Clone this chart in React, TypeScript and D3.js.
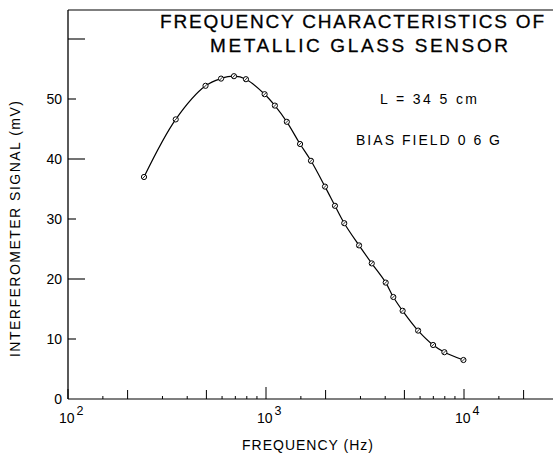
import React from "react";
import * as d3 from "d3";

const freqs = [242, 350, 495, 593, 689, 792, 984, 1109, 1274, 1486, 1687, 1986, 2230, 2484, 2951, 3420, 4023, 4396, 4899, 5865, 6982, 7960, 9935];
const signals = [37.0, 46.6, 52.2, 53.4, 53.8, 53.3, 50.8, 48.9, 46.2, 42.5, 39.7, 35.4, 32.2, 29.3, 25.6, 22.6, 19.4, 17.0, 14.7, 11.4, 9.0, 7.8, 6.5];
const yTicks = [0, 10, 20, 30, 40, 50, 60];
const yTickLabels = ["0", "10", "20", "30", "40", "50", ""];
const decades = [100, 1000, 10000];
const decadeExponents = ["2", "3", "4"];
const minorMultipliers = [1.5, 2, 3, 4, 5, 6, 7, 8, 9];
const titleLines = ["FREQUENCY CHARACTERISTICS OF", "METALLIC GLASS SENSOR"];
const noteLines = ["L = 34 5  cm", "BIAS  FIELD  0 6  G"];
const xLabel = "FREQUENCY (Hz)";
const yLabel = "INTERFEROMETER  SIGNAL  (mV)";

const W = 553;
const H = 456;
const FONT = "'Liberation Sans', Arial, Helvetica, sans-serif";

export default function App() {
  const x = d3.scaleLog().domain([100, 10000]).range([68, 464]);
  const y = d3.scaleLinear().domain([0, 50]).range([399, 99]);
  const x0 = x(100);
  const y0 = y(0);
  const yTop = 10;
  const xRight = W;

  const pts: [number, number][] = freqs.map((f, i) => [x(f), y(signals[i])]);
  const line = d3.line<[number, number]>().x((d) => d[0]).y((d) => d[1]).curve(d3.curveCatmullRom.alpha(0.5));

  const minorTicks: { v: number; len: number }[] = [];
  decades.forEach((d, i) => {
    const big = i === 1 ? 12 : 10;
    minorTicks.push({ v: d, len: big });
    minorMultipliers.forEach((m) => {
      const v = d * m;
      if (x(v) <= xRight) minorTicks.push({ v, len: m === 2 || m === 5 ? 9 : 3 });
    });
  });

  return (
    <svg width={W} height={H} style={{ position: "absolute", left: 0, top: 0, background: "#fff" }} fontFamily={FONT}>
      <rect width={W} height={H} fill="#fff" />
      {/* axes frame */}
      <line x1={x0} y1={yTop} x2={x0} y2={y0} stroke="#000" strokeWidth={1.3} />
      <line x1={x0} y1={yTop} x2={xRight} y2={yTop} stroke="#000" strokeWidth={1.2} />
      <line x1={x0} y1={y0} x2={xRight} y2={y0} stroke="#000" strokeWidth={1.2} />

      {/* y ticks */}
      {yTicks.map((v, i) => (
        <g key={"yt" + v}>
          {v > 0 && (
            <line x1={x0} x2={x0 + (i % 2 === 0 ? 17 : 8)} y1={y(v)} y2={y(v)} stroke="#000" strokeWidth={1.1} />
          )}
          <text x={62} y={y(v) + 5} textAnchor="end" fontSize={14} fill="#000">
            {yTickLabels[i]}
          </text>
        </g>
      ))}

      {/* x ticks */}
      {minorTicks.map((t, i) => (
        <line key={"xt" + i} x1={x(t.v)} x2={x(t.v)} y1={y0} y2={y0 - t.len} stroke="#000" strokeWidth={1} />
      ))}
      {decades.map((d, i) => (
        <text key={"xl" + d} x={x(d) - 9} y={423} fontSize={14} fill="#000">
          10
          <tspan dx={2} dy={-8} fontSize={12.5}>
            {decadeExponents[i]}
          </tspan>
        </text>
      ))}

      {/* axis labels */}
      <text x={308} y={450} textAnchor="middle" fontSize={14} letterSpacing={1} fill="#000">
        {xLabel}
      </text>
      <text transform="translate(20,229) rotate(-90)" textAnchor="middle" fontSize={14} textLength={256} lengthAdjust="spacing" fill="#000">
        {yLabel}
      </text>

      {/* title */}
      <text x={160} y={28} fontSize={19} textLength={384} lengthAdjust="spacing" fill="#000" stroke="#000" strokeWidth={0.3}>
        {titleLines[0]}
      </text>
      <text x={210} y={52} fontSize={19} textLength={298} lengthAdjust="spacing" fill="#000" stroke="#000" strokeWidth={0.3}>
        {titleLines[1]}
      </text>

      {/* notes */}
      <text x={380} y={104} fontSize={14} textLength={97} lengthAdjust="spacing" fill="#000">
        {noteLines[0]}
      </text>
      <text x={356} y={145} fontSize={14} textLength={144} lengthAdjust="spacing" fill="#000">
        {noteLines[1]}
      </text>

      {/* curve */}
      <path d={line(pts) || ""} fill="none" stroke="#000" strokeWidth={1.2} />
      {pts.map((p, i) => (
        <g key={"p" + i}>
          <circle cx={p[0]} cy={p[1]} r={2.6} fill="#fff" stroke="#000" strokeWidth={1} />
          <line x1={p[0] - 1.8} y1={p[1] + 1.8} x2={p[0] + 1.8} y2={p[1] - 1.8} stroke="#000" strokeWidth={0.8} />
        </g>
      ))}
    </svg>
  );
}
